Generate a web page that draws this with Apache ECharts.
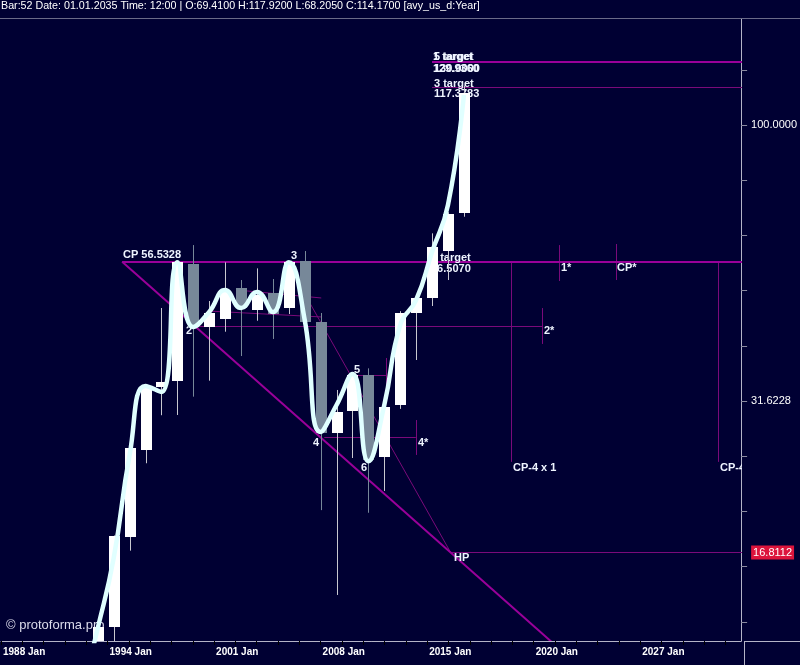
<!DOCTYPE html>
<html><head><meta charset="utf-8">
<script src="https://cdn.jsdelivr.net/npm/echarts@6/dist/echarts.min.js"></script>
<style>html,body{margin:0;padding:0;background:#000033;}#c{width:800px;height:665px;}</style>
</head><body><div id="c"></div>
<script>
// ---- data (yearly candles, bar number = x) ----
const barNo  = [29,30,31,32,33,34,35,36,37,38,39,40,41,42,43,44,45,46,47,48,49,50,51,52];
const openP  = [10.4,12.34,17.96,25.78,33.57,34.4,55.9,43.0,44.46,50.73,46.22,49.56,46.55,56.7,44.0,27.63,30.3,35.3,25.07,31.1,45.59,48.53,59.0,69.41];
const closeP = [12.3,18.0,25.96,33.34,34.28,56.53,43.1,45.59,49.89,46.61,49.21,45.39,56.53,44.02,27.67,30.24,35.24,24.72,30.88,45.71,48.53,60.04,68.98,114.17];
const lowP   = [10.0,11.3,16.94,24.39,29.8,29.83,32.2,34.42,42.22,38.15,44.2,40.96,45.45,43.8,20.06,14.08,24.93,19.84,21.73,30.6,37.52,47.0,52.38,68.205];
const highP  = [12.5,18.05,26.0,33.4,46.61,56.6,60.6,47.99,56.4,52.38,54.99,52.6,56.6,59.11,45.65,33.11,35.5,36.24,31.3,46.0,49.0,63.64,69.5,117.92];
// smoothed curve
const curveBarNo = [28,29,30,31,32,33,34,35,36,37,38,39,40,41,42,43,44,45,46,47,48,49,50,51,52];
const curveP = [9.4,12.27,16.43,25.25,33.67,32.84,56.4,43.05,45.84,50.25,46.61,49.82,45.84,56.4,44.33,27.8,31.1,35.39,24.6,31.1,43.41,48.19,58.87,71.62,113.3];
// levels
const cpPrice = 56.5328, hpPrice = 16.8112;
// drawn lines: [bar1, price1, bar2, price2]
const thickLines = [
  [30.53, cpPrice, 69.6, cpPrice],
  [30.53, cpPrice, 58.0, 11.25],
  [50.0, 130.0, 69.6, 130.0]
];
const thinLines = [
  [51.17, hpPrice, 69.6, hpPrice],
  [50.0, 117.3783, 69.6, 117.3783],
  [35.11, 43.2, 56.92, 43.2],
  [56.92, 46.6, 56.92, 40.12],
  [57.98, 60.6, 57.98, 52.16],
  [61.53, 60.87, 61.53, 52.38],
  [54.98, cpPrice, 54.98, 24.53],
  [67.96, cpPrice, 67.96, 24.53],
  [43.23, 27.21, 48.98, 27.21],
  [48.98, 29.21, 48.98, 25.25],
  [42.11, 48.8, 51.17, hpPrice],
  [44.97, 35.24, 47.1, 35.24],
  [47.1, 37.84, 47.1, 32.9],
  [37.73, 50.25, 43.04, 48.6],
  [35.92, 46.03, 43.04, 44.9]
];
// annotations: [bar, price, text]
const notes = [
  [30.61, 58.1, 'CP 56.5328'],
  [34.54, 42.26, '2'],
  [41.14, 57.89, '3'],
  [42.54, 26.54, '4'],
  [45.11, 35.99, '5'],
  [45.54, 23.96, '6'],
  [49.92, 57.40, '2 target'],
  [49.92, 54.83, '56.5070'],
  [50.11, 118.9, '3 target'],
  [50.11, 113.8, '117.3783'],
  [50.05, 132.8, '1 target'],
  [50.05, 126.1, '129.9360'],
  [50.11, 132.8, '5 target'],
  [50.11, 126.1, '130.0000'],
  [58.11, 55.07, '1*'],
  [61.61, 55.07, 'CP*'],
  [57.04, 42.35, '2*'],
  [49.11, 26.54, '4*'],
  [55.11, 23.91, 'CP-4 x 1'],
  [68.10, 23.91, 'CP-4 x 1'],
  [51.36, 16.43, 'HP']
];
const xTickLabels = ['1988 Jan','1994 Jan','2001 Jan','2008 Jan','2015 Jan','2020 Jan','2027 Jan'];
const header = 'Bar:52 Date: 01.01.2035 Time: 12:00 | O:69.4100 H:117.9200 L:68.2050 C:114.1700 [avy_us_d:Year]';

// ---- layout ----
const L = Math.log10;
const xMin = 52 - 465.3/16, xMax = xMin + 744/16;
const xStep = 21.42/16;
const xTicks = []; for (let k = 0; xMin + k*xStep <= xMax + 1e-9; k++) xTicks.push(xMin + k*xStep);
const xLabelVals = xTickLabels.map((_, i) => xMin + i*5*xStep);
const yMin = 1.06522, yMax = 2.19203;
const yTicks = []; for (let v = 1.1; v <= 2.19; v += 0.1) yTicks.push(+v.toFixed(1));
const hpLog = L(hpPrice);
const yLabelVals = [2, 1.5, hpLog];

const segData = a => a.map(s => [s[0], L(s[1]), s[2], L(s[3])]);
function renderSeg(width, color) {
  return function (params, api) {
    const p1 = api.coord([api.value(0), api.value(1)]);
    const p2 = api.coord([api.value(2), api.value(3)]);
    const fix = v => Math.round(v) + (width % 2 ? 0.5 : 0);
    let x1 = p1[0], x2 = p2[0], y1 = p1[1], y2 = p2[1];
    if (Math.abs(x1 - x2) < 0.01) { x1 = x2 = fix(x1); }
    if (Math.abs(y1 - y2) < 0.01) { y1 = y2 = fix(y1); }
    return { type: 'line', shape: { x1, y1, x2, y2 }, style: { stroke: color, lineWidth: width } };
  };
}

const chart = echarts.init(document.getElementById('c'), null, { renderer: 'canvas' });
chart.setOption({
  backgroundColor: '#000033',
  animation: false,
  grid: { left: 0, right: 56, top: 19, bottom: 24, containLabel: false },
  xAxis: {
    type: 'value', min: xMin, max: xMax, splitLine: { show: false },
    axisLine: { show: true, onZero: false, lineStyle: { color: '#b4b4c8', width: 1 } },
    axisTick: { show: true, length: 4, customValues: xTicks, lineStyle: { color: '#000000' } },
    axisLabel: {
      customValues: xLabelVals, align: 'left', margin: 6, padding: [0, 0, 0, 2],
      color: '#ffffff', fontSize: 10, fontWeight: 'bold', fontFamily: 'Liberation Sans',
      formatter: v => { const i = xLabelVals.findIndex(u => Math.abs(u - v) < 1e-3); return i >= 0 ? xTickLabels[i] : ''; }
    }
  },
  yAxis: {
    type: 'value', position: 'right', min: yMin, max: yMax, splitLine: { show: false },
    axisLine: { show: true, lineStyle: { color: '#b4b4c8', width: 1 } },
    axisTick: { show: true, length: 6, customValues: yTicks, lineStyle: { color: '#8a8aa0' } },
    axisLabel: {
      customValues: yLabelVals, margin: 10, color: '#ffffff', fontSize: 11, fontFamily: 'Liberation Sans',
      formatter: v => Math.abs(v - hpLog) < 1e-6 ? '{hp|' + hpPrice.toFixed(4) + '}' : Math.pow(10, v).toFixed(4),
      rich: { hp: { backgroundColor: '#dc143c', color: '#ffffff', fontSize: 11, fontFamily: 'Liberation Sans', padding: [2, 2, 1, 2] } }
    }
  },
  graphic: [
    { type: 'text', left: 6, top: 619, z: 0, style: { text: '\u00a9 protoforma.pro', fill: '#dcdcec', font: '13px "Liberation Sans", Arial' } },
    { type: 'line', z: 10, shape: { x1: 744, y1: 641.5, x2: 800, y2: 641.5 }, style: { stroke: '#b4b4c8', lineWidth: 1 } },
    { type: 'line', z: 10, shape: { x1: 744.5, y1: 641, x2: 744.5, y2: 665 }, style: { stroke: '#b4b4c8', lineWidth: 1 } },
    { type: 'line', z: 21, shape: { x1: 0, y1: 18.5, x2: 800, y2: 18.5 }, style: { stroke: '#6a6a88', lineWidth: 1 } },
    { type: 'text', left: 1, top: 1, z: 22, style: { text: header, fill: '#ffffff', font: '10.7px "Liberation Sans", Arial' } }
  ],
  series: [
    { type: 'custom', z: 1, clip: true, data: segData(thinLines), encode: { x: [0, 2], y: [1, 3] },
      renderItem: renderSeg(1, '#7a0a7a'), silent: true },
    { type: 'custom', z: 1, clip: true, data: segData(thickLines), encode: { x: [0, 2], y: [1, 3] },
      renderItem: renderSeg(2, '#990099'), silent: true },
    { type: 'custom', z: 2, clip: true, data: notes.map(n => [n[0], L(n[1])]), encode: { x: 0, y: 1 }, silent: true,
      renderItem: (params, api) => {
        const p = api.coord([api.value(0), api.value(1)]);
        return { type: 'text', x: Math.round(p[0]), y: Math.round(p[1]),
          style: { text: notes[params.dataIndex][2], fill: '#eef4ff', font: 'bold 11px "Liberation Sans", Arial', align: 'left', verticalAlign: 'middle' } };
      } },
    { type: 'custom', z: 3, clip: true, silent: true,
      data: barNo.map((n, i) => [n, L(openP[i]), L(closeP[i]), L(lowP[i]), L(highP[i])]),
      encode: { x: 0, y: [1, 2, 3, 4] },
      renderItem: (params, api) => {
        const n = api.value(0);
        const o = api.coord([n, api.value(1)]), c = api.coord([n, api.value(2)]);
        const l = api.coord([n, api.value(3)]), h = api.coord([n, api.value(4)]);
        const up = api.value(2) >= api.value(1);
        const cx = Math.round(o[0]);
        const top = Math.round(Math.min(o[1], c[1])), bot = Math.round(Math.max(o[1], c[1]));
        const body = up ? '#ffffff' : '#778899';
        const wick = up ? '#c8c8d0' : '#778899';
        return { type: 'group', children: [
          { type: 'line', shape: { x1: cx + 0.5, y1: h[1], x2: cx + 0.5, y2: l[1] }, style: { stroke: wick, lineWidth: 1 } },
          { type: 'rect', shape: { x: cx - 5, y: top, width: 11, height: Math.max(1, bot - top) }, style: { fill: body } }
        ] };
      } },
    { type: 'line', z: 4, data: curveBarNo.map((n, i) => [n, L(curveP[i])]), smooth: 0.5, symbol: 'none',
      lineStyle: { color: '#e0ffff', width: 4.5 }, clip: true, silent: true }
  ]
});
</script></body></html>
